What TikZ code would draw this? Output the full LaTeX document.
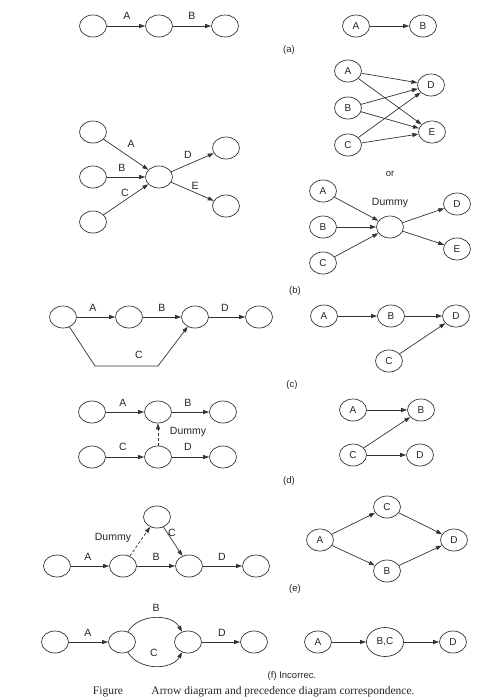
\documentclass[tikz,border=0pt]{standalone}
\usepackage{fontspec}
\setmainfont{Liberation Sans}
\newfontfamily\capfont{Liberation Serif}
\usetikzlibrary{shapes.geometric,arrows.meta}
\begin{document}
\begin{tikzpicture}[x=1pt,y=-1pt,
  ev/.style={ellipse,draw=black!80,line width=0.7pt,minimum width=27pt,minimum height=22pt,inner sep=0pt,font=\fontsize{10}{11}\selectfont,text=black!85},
  arr/.style={draw=black!80,line width=0.7pt,-{Triangle[length=6pt,width=4pt]}},
  darr/.style={arr,dashed,dash pattern=on 3pt off 2pt},
  lbl/.style={font=\fontsize{10.5}{12}\selectfont,inner sep=0pt,text=black!85},
  sub/.style={font=\fontsize{9.5}{11}\selectfont,inner sep=0pt,text=black!85}]
\fill[white] (0,0) rectangle (478,699);
\useasboundingbox (0,0) rectangle (478,699);

% ---------- (a)
\node[ev] (a1) at (93,26) {};
\node[ev] (a2) at (159,26) {};
\node[ev] (a3) at (225,26) {};
\draw[arr] (a1) -- (a2);
\draw[arr] (a2) -- (a3);
\node[lbl] (laA) at (127,16) {A};
\node[lbl] (laB) at (192,16) {B};
\node[ev] (pa1) at (356,26) {A};
\node[ev] (pa2) at (423,26) {B};
\draw[arr] (pa1) -- (pa2);
\node[sub] (capa) at (289,50) {(a)};

% ---------- (b) left
\node[ev] (b1) at (93,132) {};
\node[ev] (b2) at (93,177) {};
\node[ev] (b3) at (93,222) {};
\node[ev] (b4) at (159,177) {};
\node[ev] (b5) at (226,148) {};
\node[ev] (b6) at (226,206) {};
\draw[arr] (b1) -- (b4);
\draw[arr] (b2) -- (b4);
\draw[arr] (b3) -- (b4);
\draw[arr] (b4) -- (b5);
\draw[arr] (b4) -- (b6);
\node[lbl] (lbA) at (131,144) {A};
\node[lbl] (lbB) at (122,168) {B};
\node[lbl] (lbC) at (125,193) {C};
\node[lbl] (lbD) at (188,155) {D};
\node[lbl] (lbE) at (195,186) {E};

% ---------- (b) right top
\node[ev] (pbA) at (348,71) {A};
\node[ev] (pbB) at (348,108) {B};
\node[ev] (pbC) at (348,145) {C};
\node[ev] (pbD) at (431,85) {D};
\node[ev] (pbE) at (432,132) {E};
\draw[arr] (pbA) -- (pbD);
\draw[arr] (pbA) -- (pbE);
\draw[arr] (pbB) -- (pbD);
\draw[arr] (pbB) -- (pbE);
\draw[arr] (pbC) -- (pbD);
\draw[arr] (pbC) -- (pbE);
\node[sub] (orb) at (390,174) {or};

% ---------- (b) right bottom
\node[ev] (qbA) at (323,191) {A};
\node[ev] (qbB) at (323,227) {B};
\node[ev] (qbC) at (323,263) {C};
\node[ev] (qbX) at (390,227) {};
\node[ev] (qbD) at (457,204) {D};
\node[ev] (qbE) at (457,249) {E};
\draw[arr] (qbA) -- (qbX);
\draw[arr] (qbB) -- (qbX);
\draw[arr] (qbC) -- (qbX);
\draw[arr] (qbX) -- (qbD);
\draw[arr] (qbX) -- (qbE);
\node[lbl] (lqX) at (390,203) {Dummy};
\node[sub] (capb) at (295,291) {(b)};

% ---------- (c)
\node[ev] (c1) at (63,317) {};
\node[ev] (c2) at (129,317) {};
\node[ev] (c3) at (195,317) {};
\node[ev] (c4) at (259,317) {};
\coordinate (cbl) at (95,366);
\coordinate (cbr) at (158,366);
\draw[arr] (c1) -- (c2);
\draw[arr] (c2) -- (c3);
\draw[arr] (c3) -- (c4);
\draw[arr] (c1) -- (cbl) -- (cbr) -- (c3);
\node[lbl] (lcA) at (93,308) {A};
\node[lbl] (lcB) at (162,308) {B};
\node[lbl] (lcD) at (225,308) {D};
\node[lbl] (lcC) at (139,355) {C};
\node[ev] (pcA) at (324,316) {A};
\node[ev] (pcB) at (391,316) {B};
\node[ev] (pcD) at (456,316) {D};
\node[ev] (pcC) at (389,361) {C};
\draw[arr] (pcA) -- (pcB);
\draw[arr] (pcB) -- (pcD);
\draw[arr] (pcC) -- (pcD);
\node[sub] (capc) at (292,385) {(c)};

% ---------- (d)
\node[ev] (d1) at (92,412) {};
\node[ev] (d2) at (158,412) {};
\node[ev] (d3) at (223,412) {};
\node[ev] (d4) at (92,457) {};
\node[ev] (d5) at (158,457) {};
\node[ev] (d6) at (223,457) {};
\draw[arr] (d1) -- (d2);
\draw[arr] (d2) -- (d3);
\draw[arr] (d4) -- (d5);
\draw[arr] (d5) -- (d6);
\draw[darr] (d5) -- (d2);
\node[lbl] (ldA) at (123,403) {A};
\node[lbl] (ldB) at (188,403) {B};
\node[lbl] (ldC) at (123,447) {C};
\node[lbl] (ldD) at (188,447) {D};
\node[lbl] (ldX) at (188,432) {Dummy};
\node[ev] (pdA) at (353,410) {A};
\node[ev] (pdB) at (421,410) {B};
\node[ev] (pdC) at (353,455) {C};
\node[ev] (pdD) at (420,455) {D};
\draw[arr] (pdA) -- (pdB);
\draw[arr] (pdC) -- (pdB);
\draw[arr] (pdC) -- (pdD);
\node[sub] (capd) at (289,481) {(d)};

% ---------- (e)
\node[ev] (e1) at (57,566) {};
\node[ev] (e2) at (123,566) {};
\node[ev] (e3) at (157,517) {};
\node[ev] (e4) at (189,566) {};
\node[ev] (e5) at (256,566) {};
\draw[arr] (e1) -- (e2);
\draw[arr] (e2) -- (e4);
\draw[arr] (e4) -- (e5);
\draw[darr] (e2) -- (e3);
\draw[arr] (e3) -- (e4);
\node[lbl] (leA) at (88,557) {A};
\node[lbl] (leB) at (156,557) {B};
\node[lbl] (leD) at (222,557) {D};
\node[lbl] (leC) at (172,533) {C};
\node[lbl] (leX) at (113,538) {Dummy};
\node[ev] (peA) at (320,540) {A};
\node[ev] (peC) at (387,507) {C};
\node[ev] (peB) at (387,571) {B};
\node[ev] (peD) at (454,540) {D};
\draw[arr] (peA) -- (peC);
\draw[arr] (peA) -- (peB);
\draw[arr] (peC) -- (peD);
\draw[arr] (peB) -- (peD);
\node[sub] (cape) at (295,589) {(e)};

% ---------- (f)
\node[ev] (f1) at (55,642) {};
\node[ev] (f2) at (122,642) {};
\node[ev] (f3) at (188,642) {};
\node[ev] (f4) at (254,642) {};
\draw[arr] (f1) -- (f2);
\draw[arr] (f2) to[out=60,in=120] (f3);
\draw[arr] (f2) to[out=-60,in=-120] (f3);
\draw[arr] (f3) -- (f4);
\node[lbl] (lfA) at (88,633) {A};
\node[lbl] (lfB) at (156,608) {B};
\node[lbl] (lfC) at (154,653) {C};
\node[lbl] (lfD) at (222,633) {D};
\node[ev] (pfA) at (318,642) {A};
\node[ev,minimum width=37pt,minimum height=29pt] (pfBC) at (385,642) {B,C};
\node[ev] (pfD) at (453,642) {D};
\draw[arr] (pfA) -- (pfBC);
\draw[arr] (pfBC) -- (pfD);
\node[sub] (capf) at (292,676) {(f) Incorrec.};

% ---------- caption
\node[font=\capfont\fontsize{11.5}{13}\selectfont,inner sep=0pt,text=black!85] (fig) at (108,692) {Figure};
\node[font=\capfont\fontsize{11.5}{13}\selectfont,inner sep=0pt,text=black!85] (figt) at (283,692) {Arrow diagram and precedence diagram correspondence.};
\end{tikzpicture}
\end{document}
